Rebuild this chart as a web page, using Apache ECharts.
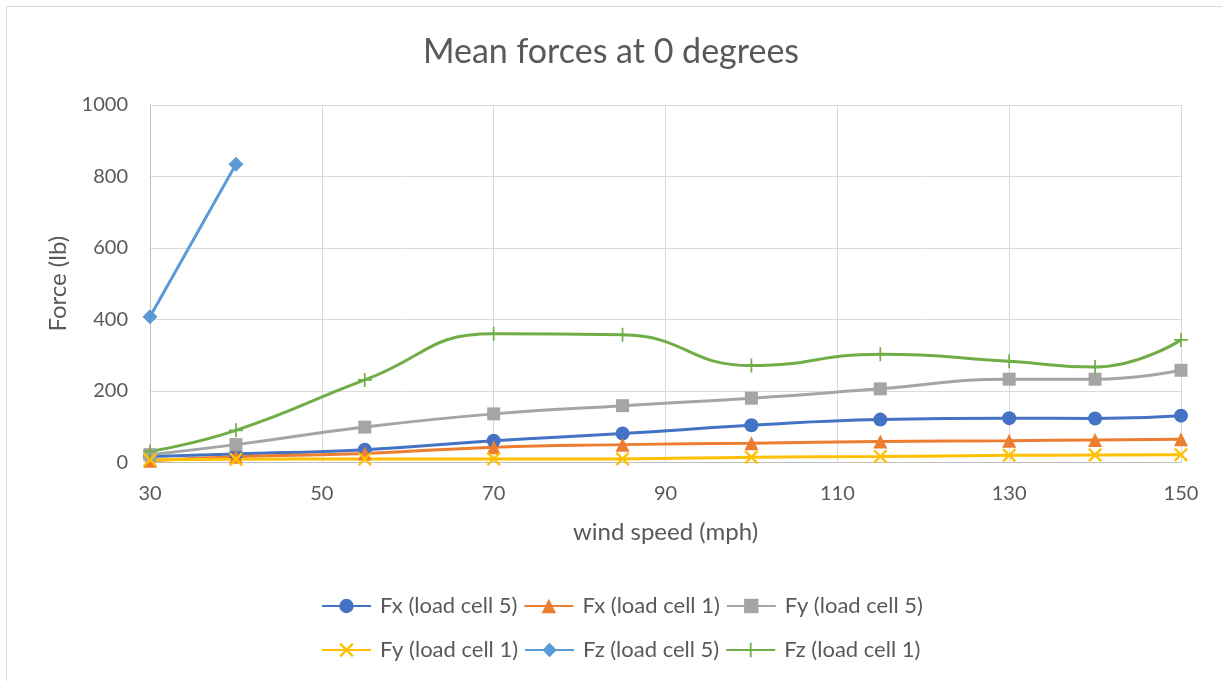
<!DOCTYPE html>
<html>
<head>
<meta charset="utf-8">
<script src="https://cdn.jsdelivr.net/npm/echarts@6/dist/echarts.min.js"></script>
<style>html,body{margin:0;padding:0;background:#fff}#c{width:1222px;height:681px}</style>
</head>
<body>
<div id="c"></div>
<script>
const windSpeed = [30, 40, 55, 70, 85, 100, 115, 130, 140, 150];
const fxCell5 = [17, 24, 36, 61, 81, 104, 120, 124, 123, 131];
const fxCell1 = [5, 16, 25, 43, 50, 54, 59, 61, 63, 65];
const fyCell5 = [22, 50, 99, 136, 159, 180, 206, 233, 233, 258];
const fyCell1 = [8, 9, 10, 10, 10, 15, 17, 20, 21, 22];
const fzCell5 = [408, 834];
const fzCell1 = [31, 90, 231, 360, 357, 271, 303, 283, 267, 343];
const seriesNames = ['Fx (load cell 5)', 'Fx (load cell 1)', 'Fy (load cell 5)', 'Fy (load cell 1)', 'Fz (load cell 5)', 'Fz (load cell 1)'];

const FONT = 'Lato, "Open Sans", sans-serif';
const X_SYM = 'path://M0,1.2L1.2,0L5,3.8L8.8,0L10,1.2L6.2,5L10,8.8L8.8,10L5,6.2L1.2,10L0,8.8L3.8,5Z';
const PLUS_SYM = 'path://M4.4,0H5.6V4.4H10V5.6H5.6V10H4.4V5.6H0V4.4H4.4Z';

function pairs(xs, ys) { return ys.map((v, i) => [xs[i], v]); }

function mk(name, data, color, symbol, size, smooth) {
  return {
    name: name, type: 'line', data: data, smooth: smooth,
    symbol: symbol, symbolSize: size, showAllSymbol: true,
    lineStyle: { color: color, width: 3 },
    itemStyle: { color: color },
    emphasis: { disabled: true },
    z: 2
  };
}

const chart = echarts.init(document.getElementById('c'), null, { renderer: 'canvas' });
const legendText = { color: '#595959', fontSize: 22, fontFamily: FONT, padding: [0, 0, 0, 4] };
chart.setOption({
  animation: false,
  backgroundColor: '#fff',
  title: {
    text: 'Mean forces at 0 degrees', left: 'center', top: 30,
    textStyle: { color: '#595959', fontSize: 34, fontWeight: 'normal', fontFamily: FONT }
  },
  legend: [
    { data: seriesNames.slice(0, 3), left: 316, top: 590, itemWidth: 49, itemHeight: 18, itemGap: 6, textStyle: legendText },
    { data: seriesNames.slice(3, 6), left: 316, top: 634, itemWidth: 49, itemHeight: 18, itemGap: 6, textStyle: legendText }
  ],
  grid: { left: 150, right: 41, top: 105, bottom: 218.5, containLabel: false },
  xAxis: {
    type: 'value', min: 30, max: 150, interval: 20,
    name: 'wind speed (mph)', nameLocation: 'middle', nameGap: 58,
    nameTextStyle: { color: '#595959', fontSize: 24, fontFamily: FONT },
    axisLine: { show: true, lineStyle: { color: '#BFBFBF', width: 1 } },
    axisTick: { show: false },
    axisLabel: { color: '#595959', fontSize: 20, fontFamily: FONT, margin: 21 },
    splitLine: { show: true, lineStyle: { color: '#D9D9D9', width: 1 } }
  },
  yAxis: {
    type: 'value', min: 0, max: 1000, interval: 200,
    name: 'Force (lb)', nameLocation: 'middle', nameGap: 78,
    nameTextStyle: { color: '#595959', fontSize: 24, fontFamily: FONT },
    axisLine: { show: true, lineStyle: { color: '#BFBFBF', width: 1 } },
    axisTick: { show: false },
    axisLabel: { color: '#595959', fontSize: 20, fontFamily: FONT, margin: 22, formatter: v => String(v) },
    splitLine: { show: true, lineStyle: { color: '#D9D9D9', width: 1 } }
  },
  graphic: [{
    type: 'rect', shape: { x: 6.5, y: 6.5, width: 1400, height: 1000 },
    style: { fill: 'none', stroke: '#D9D9D9', lineWidth: 1 }, silent: true
  }],
  series: [
    mk(seriesNames[0], pairs(windSpeed, fxCell5), '#4472C4', 'circle', 14, 0.5),
    mk(seriesNames[1], pairs(windSpeed, fxCell1), '#ED7D31', 'triangle', 14, 0.5),
    mk(seriesNames[2], pairs(windSpeed, fyCell5), '#A5A5A5', 'rect', 13, 0.5),
    mk(seriesNames[3], pairs(windSpeed, fyCell1), '#FFC000', X_SYM, 14, 0.5),
    mk(seriesNames[4], pairs(windSpeed, fzCell5), '#5B9BD5', 'diamond', 15, 0.5),
    mk(seriesNames[5], pairs(windSpeed, fzCell1), '#70AD47', PLUS_SYM, 14, 0.5)
  ]
});
</script>
</body>
</html>
